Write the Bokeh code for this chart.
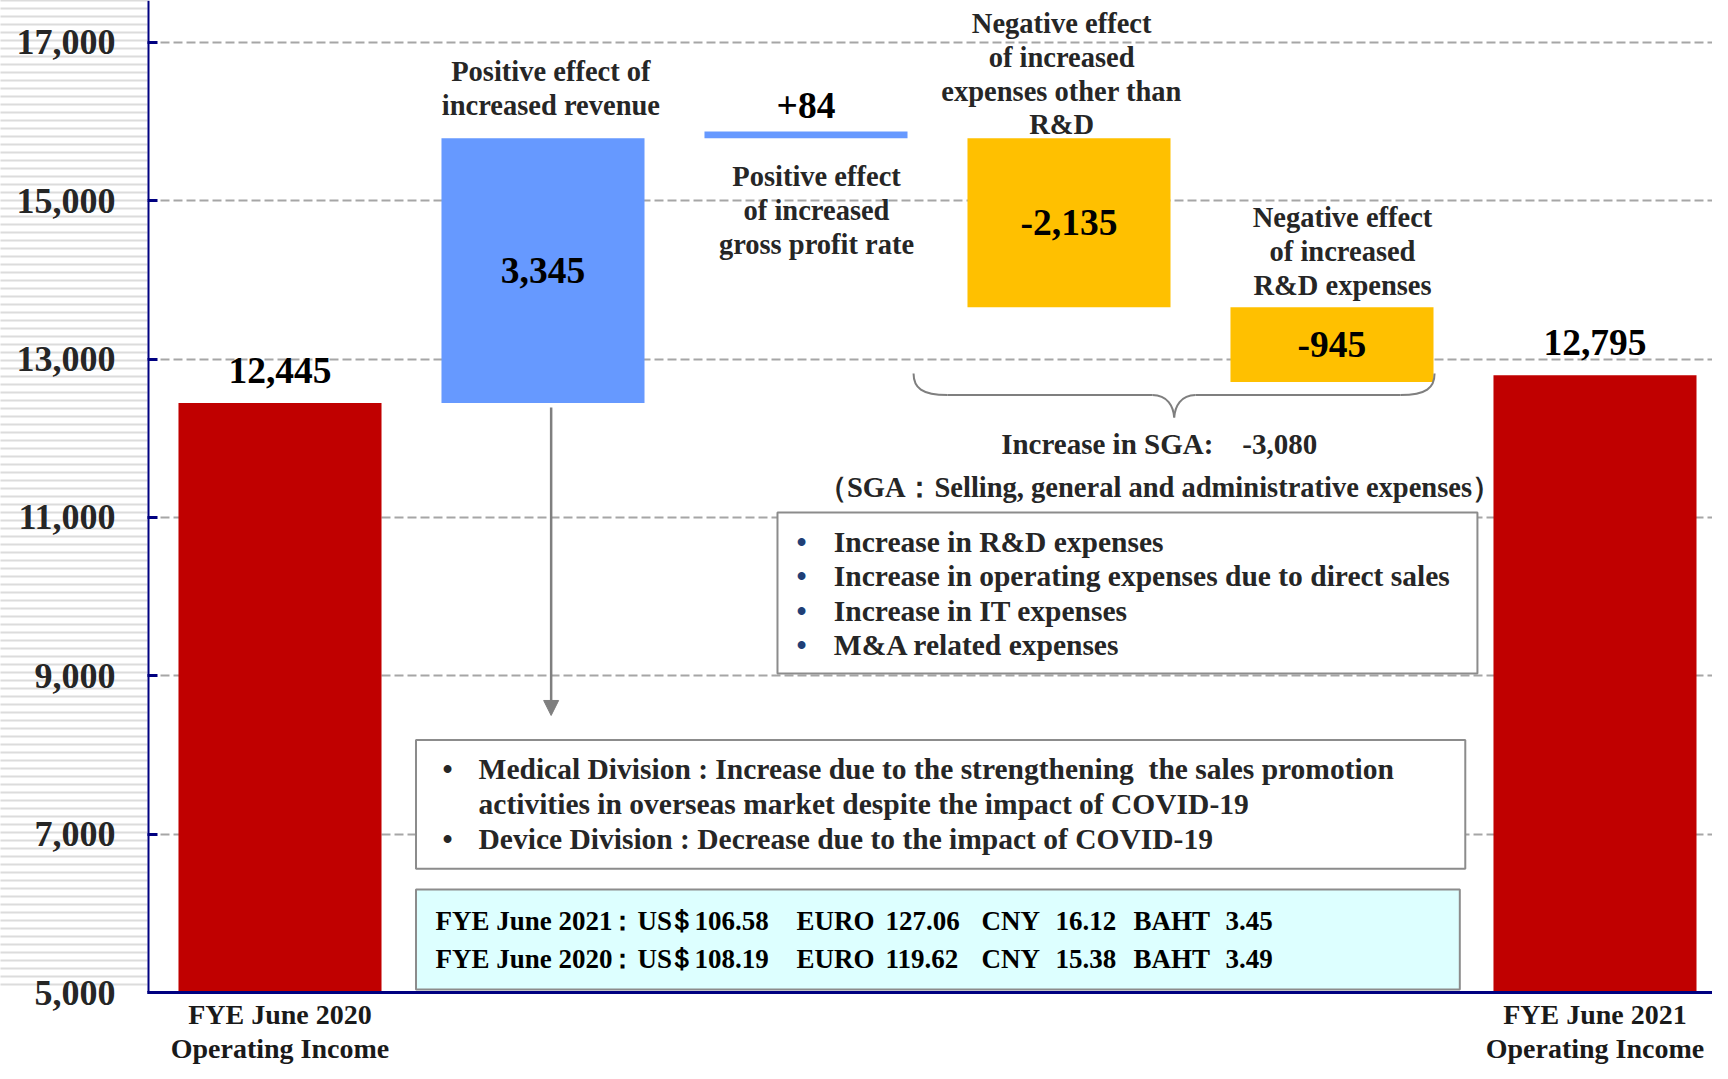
import numpy as np
from bokeh.plotting import figure
from bokeh.models import (ColumnDataSource, Range1d, FixedTicker, NumeralTickFormatter,
                          Arrow, NormalHead, Span)
from bokeh.core.properties import value
from bokeh.embed import file_html
from bokeh.resources import INLINE

# ---------------- data ----------------
steps = ["FYE June 2020 Operating Income",
         "Positive effect of increased revenue",
         "Positive effect of increased gross profit rate",
         "Negative effect of increased expenses other than R&D",
         "Negative effect of increased R&D expenses",
         "FYE June 2021 Operating Income"]
step_pos = [0, 1, 2, 3, 4, 5]
step_values = [12445, 3345, 84, -2135, -945, 12795]
step_start = [5000, 12445, 15790, 15790, 13655, 5000]
is_total = [True, False, False, False, False, True]
value_labels = ["12,445", "3,345", "+84", "-2,135", "-945", "12,795"]
label_inside = [False, True, False, True, True, False]
bar_colors = ["#C00000", "#6699FF", "#6699FF", "#FFC000", "#FFC000", "#C00000"]

y_ticks = [5000, 7000, 9000, 11000, 13000, 15000, 17000]
x_ticks = [0, 5]
x_tick_labels = {0: "FYE June 2020\nOperating Income", 5: "FYE June 2021\nOperating Income"}

step_titles = {
    1: ["Positive effect of", "increased revenue"],
    2: ["Positive effect", "of increased", "gross profit rate"],
    3: ["Negative effect", "of increased", "expenses other than", "R&D"],
    4: ["Negative effect", "of increased", "R&D expenses"],
}
sga_items = ["Increase in R&D expenses",
             "Increase in operating expenses due to direct sales",
             "Increase in IT expenses",
             "M&A related expenses"]
sga_note = "（SGA：Selling, general and administrative expenses）"
division_lines = ["Medical Division : Increase due to the strengthening\u00a0 the sales promotion",
                  "activities in overseas market despite the impact of COVID-19",
                  "Device Division : Decrease due to the impact of COVID-19"]
division_bullet = [True, False, True]

fx_years = ["FYE June 2021", "FYE June 2020"]
fx_usd = ["106.58", "108.19"]
fx_euro = ["127.06", "119.62"]
fx_cny = ["16.12", "15.38"]
fx_baht = ["3.45", "3.49"]

# ---------------- figure ----------------
FONT = "Liberation Serif"
TXT = "#262626"
NAVY = "#000080"
Y0, Y1 = 5000, 17530
STRIPE = 147

p = figure(frame_width=1565, frame_height=992,
           x_range=Range1d(-0.5038, 5.4468), y_range=Range1d(Y0, Y1),
           output_backend="svg", toolbar_location=None,
           min_border_left=147, min_border_right=0, min_border_top=0, min_border_bottom=71)
p.background_fill_color = "white"
p.border_fill_color = "white"
p.outline_line_color = None

# y axis (minor ticks give the striped band on the left)
stripe_ticks = list(Y0 + (992 - np.arange(0, 992, 8)) * (Y1 - Y0) / 992.0)
p.yaxis.ticker = FixedTicker(ticks=y_ticks, minor_ticks=stripe_ticks)
p.yaxis.formatter = NumeralTickFormatter(format="0,0")
p.yaxis.major_label_text_font = FONT
p.yaxis.major_label_text_font_style = "bold"
p.yaxis.major_label_text_font_size = "36px"
p.yaxis.major_label_text_color = TXT
p.yaxis.major_label_standoff = 32 - STRIPE
p.yaxis.major_tick_in = 10
p.yaxis.major_tick_out = 0
p.yaxis.major_tick_line_color = NAVY
p.yaxis.major_tick_line_width = 3
p.yaxis.minor_tick_in = 0
p.yaxis.minor_tick_out = STRIPE
p.yaxis.minor_tick_line_color = "#dcdcdc"
p.yaxis.minor_tick_line_width = 2
p.yaxis.axis_line_color = None
p.add_layout(Span(location=-0.5038, dimension="height", line_color=NAVY, line_width=4))

p.xaxis.ticker = FixedTicker(ticks=x_ticks)
p.xaxis.major_label_overrides = x_tick_labels
p.xaxis.major_label_text_font = FONT
p.xaxis.major_label_text_font_style = "bold"
p.xaxis.major_label_text_font_size = "28px"
p.xaxis.major_label_text_line_height = 1.1
p.xaxis.major_label_text_color = "#1a1a1a"
p.xaxis.major_label_standoff = 6
p.xaxis.major_tick_in = 0
p.xaxis.major_tick_out = 0
p.xaxis.minor_tick_line_color = None
p.xaxis.axis_line_color = NAVY
p.xaxis.axis_line_width = 3

p.xgrid.visible = False
p.ygrid.grid_line_color = "#a6a6a6"
p.ygrid.grid_line_width = 2
p.ygrid.grid_line_dash = "9 4"

# ---------------- bars ----------------
step_end = [v if t else s + v for s, v, t in zip(step_start, step_values, is_total)]
bars = ColumnDataSource(dict(x=step_pos, bottom=step_start, top=step_end, color=bar_colors))
p.vbar(x="x", width=0.772, bottom="bottom", top="top", fill_color="color",
       line_color=None, source=bars)

# value labels
lx, ly, lt = [], [], []
for x, s, e, t, ins, tot in zip(step_pos, step_start, step_end, value_labels, label_inside, is_total):
    lx.append(x)
    lt.append(t)
    ly.append((s + e) / 2 if ins else max(s, e) + (415 if tot else 326))
p.text(x=lx, y=ly, text=lt, text_align="center", text_baseline="middle",
       text_font=value(FONT), text_font_style="bold", text_font_size="37.5px", text_color="black")


def add_lines(xs, ys, texts, size, color, align="center"):
    src = ColumnDataSource(dict(x=xs, y=ys, text=texts))
    p.text(x="x", y="y", text="text", source=src, text_align=align, text_baseline="middle",
           text_font=value(FONT), text_font_style="bold", text_font_size=size, text_color=color)


# step titles
LS = 427
title_anchor = {1: (1.03, 16634), 2: (2.04, 15307), 3: (2.972, 17240), 4: (4.04, 14789)}
tx, ty, tt = [], [], []
for k, lines in step_titles.items():
    cx, y0 = title_anchor[k]
    for i, line in enumerate(lines):
        tx.append(cx)
        ty.append(y0 - i * LS)
        tt.append(line)
add_lines(tx, ty, tt, "28.5px", TXT)

# brace under the two SGA bars
bz = dict(
    x0=[2.409, 2.538, 3.317, 4.390, 4.260, 3.481],
    y0=[12819, 12547, 12547, 12819, 12547, 12547],
    x1=[2.538, 3.317, 3.400, 4.260, 3.481, 3.400],
    y1=[12547, 12547, 12263, 12547, 12547, 12263],
    cx0=[2.409, 2.8, 3.375, 4.390, 4.0, 3.425],
    cy0=[12640, 12547, 12547, 12640, 12547, 12547],
    cx1=[2.44, 3.0, 3.397, 4.359, 3.7, 3.403],
    cy1=[12547, 12547, 12400, 12547, 12547, 12400],
)
p.bezier(x0="x0", y0="y0", x1="x1", y1="y1", cx0="cx0", cy0="cy0", cx1="cx1", cy1="cy1",
         source=ColumnDataSource(bz), line_color="#7f7f7f", line_width=2)

sga_total = step_values[3] + step_values[4]
add_lines([3.343], [11922], ["Increase in SGA:\u00a0\u00a0\u00a0 " + f"{sga_total:,}"], "29px", TXT)
add_lines([3.344], [11379], [sga_note], "28.5px", TXT)

# boxes
boxes = ColumnDataSource(dict(left=[1.8916, 0.5171, 0.5171], right=[4.553, 4.5068, 4.486],
                              top=[11063, 8189, 6301], bottom=[9029, 6562, 5038],
                              fill=["white", "white", "#DDFFFF"]))
p.quad(left="left", right="right", top="top", bottom="bottom", fill_color="fill",
       line_color="#8c8c8c", line_width=2, source=boxes)

# SGA items
sga_y = [10691 - i * 436 for i in range(len(sga_items))]
add_lines([1.983] * len(sga_items), sga_y, ["•"] * len(sga_items), "29px", "#1F3F77")
add_lines([2.106] * len(sga_items), sga_y, sga_items, "29.5px", TXT, align="left")

# division notes
div_y = [7829, 7387, 6945]
add_lines([0.637 for b in division_bullet if b], [y for y, b in zip(div_y, division_bullet) if b],
          ["•" for b in division_bullet if b], "29px", TXT)
add_lines([0.755] * len(division_lines), div_y, division_lines, "29.5px", TXT, align="left")

# exchange rates
fx_y = [5897, 5417]
cols_left = [(0.591, fx_years), (1.3593, ["US"] * 2), (1.576, fx_usd), (1.964, ["EURO"] * 2),
             (2.302, fx_euro), (2.667, ["CNY"] * 2), (2.949, fx_cny), (3.245, ["BAHT"] * 2),
             (3.595, fx_baht)]
cols_center = [(1.3023, ["："] * 2), (1.5285, ["＄"] * 2)]
for cols, align in ((cols_left, "left"), (cols_center, "center")):
    fxx, fxy, fxt = [], [], []
    for cx, texts in cols:
        for yy, t in zip(fx_y, texts):
            fxx.append(cx)
            fxy.append(yy)
            fxt.append(t)
    add_lines(fxx, fxy, fxt, "27px", "black", align=align)

# arrow from revenue bar down to the notes
p.add_layout(Arrow(end=NormalHead(size=15, fill_color="#7f7f7f", line_color="#7f7f7f"),
                   x_start=1.031, y_start=12389, x_end=1.031, y_end=8499,
                   line_color="#7f7f7f", line_width=2.5))

open("out.html", "w").write(file_html(p, INLINE))
